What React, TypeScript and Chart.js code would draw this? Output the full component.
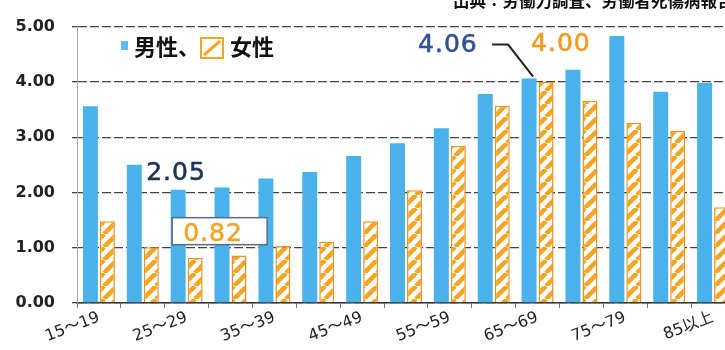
import React, { useEffect, useRef } from 'react';
import { Chart, registerables } from 'chart.js';

Chart.register(...registerables);

const categories = [
  '15～19', '20～24', '25～29', '30～34', '35～39', '40～44', '45～49', '50～54',
  '55～59', '60～64', '65～69', '70～74', '75～79', '80～84', '85以上',
];
const maleValues = [3.56, 2.5, 2.05, 2.09, 2.25, 2.37, 2.66, 2.89, 3.16, 3.78, 4.06, 4.22, 4.83, 3.82, 3.98];
const femaleValues = [1.48, 1.01, 0.82, 0.86, 1.03, 1.11, 1.48, 2.04, 2.84, 3.57, 4.0, 3.66, 3.26, 3.11, 1.73];
const seriesNames = ['男性', '女性'];
const legendTexts = ['男性、', '女性'];
const sourceNote = '出典：労働力調査、労働者死傷病報告';
const yMin = 0;
const yMax = 5;
const yStep = 1;
const peakIndex = 10;
const lowIndex = 2;

const BLUE = '#4ab2ea';
const ORANGE = '#f5a524';

function makeHatch(): CanvasPattern | string {
  const s = 13;
  const c = document.createElement('canvas');
  c.width = s;
  c.height = s;
  const g = c.getContext('2d');
  if (!g) return ORANGE;
  g.fillStyle = '#ffffff';
  g.fillRect(0, 0, s, s);
  g.strokeStyle = ORANGE;
  g.lineWidth = 4.6;
  for (let k = -1; k <= 1; k++) {
    g.beginPath();
    g.moveTo(k * s, s);
    g.lineTo(k * s + s, 0);
    g.stroke();
  }
  const p = g.createPattern(c, 'repeat');
  return p || ORANGE;
}

function boldText(ctx: CanvasRenderingContext2D, text: string, x: number, y: number, color: string) {
  ctx.fillStyle = color;
  ctx.strokeStyle = color;
  ctx.lineWidth = 0.6;
  ctx.fillText(text, x, y);
  ctx.strokeText(text, x, y);
}

const overlayPlugin = {
  id: 'overlay',
  afterDraw(chart: any) {
    const ctx: CanvasRenderingContext2D = chart.ctx;
    const male = chart.getDatasetMeta(0).data;
    const female = chart.getDatasetMeta(1).data;
    ctx.save();

    // source note (cut at top)
    ctx.font = "bold 16.5px 'Noto Sans CJK JP', sans-serif";
    ctx.fillStyle = '#111';
    ctx.textBaseline = 'ideographic';
    ctx.textAlign = 'left';
    ctx.fillText(sourceNote, 453, 9);

    // legend
    ctx.fillStyle = '#5cbcf0';
    ctx.fillRect(121, 41, 7, 9);
    ctx.font = "bold 22px 'Noto Sans CJK JP', sans-serif";
    ctx.fillStyle = '#111';
    ctx.textBaseline = 'middle';
    ctx.fillText(legendTexts[0], 134, 47);
    ctx.fillStyle = '#fff';
    ctx.fillRect(201, 38, 22, 20);
    ctx.strokeStyle = ORANGE;
    ctx.lineWidth = 2;
    ctx.strokeRect(201, 38, 22, 20);
    ctx.beginPath();
    ctx.lineWidth = 3;
    ctx.moveTo(204, 55);
    ctx.lineTo(220, 41);
    ctx.stroke();
    ctx.fillStyle = '#111';
    ctx.fillText(legendTexts[1], 230, 47);

    ctx.textBaseline = 'alphabetic';
    (ctx as any).letterSpacing = '1px';
    ctx.font = "25px 'DejaVu Sans', sans-serif";

    // peak callouts
    const mp = male[peakIndex];
    const fp = female[peakIndex];
    if (mp && fp) {
      boldText(ctx, maleValues[peakIndex].toFixed(2), mp.x - 111, mp.y - 27, '#2e5294');
      ctx.strokeStyle = '#222';
      ctx.lineWidth = 2;
      ctx.beginPath();
      ctx.moveTo(mp.x - 37, mp.y - 34);
      ctx.lineTo(mp.x - 21, mp.y - 34);
      ctx.lineTo(mp.x + 4, mp.y - 2);
      ctx.stroke();
      boldText(ctx, femaleValues[peakIndex].toFixed(2), fp.x - 15, fp.y - 31, '#f59a1d');
    }

    // low callouts
    const ml = male[lowIndex];
    const fl = female[lowIndex];
    if (ml && fl) {
      boldText(ctx, maleValues[lowIndex].toFixed(2), ml.x - 32, ml.y - 10, '#1e3557');
      const bx = fl.x - 23;
      const by = fl.y - 40;
      ctx.fillStyle = '#fff';
      ctx.fillRect(bx, by, 95, 27);
      ctx.strokeStyle = '#5a6a8a';
      ctx.lineWidth = 1.5;
      ctx.strokeRect(bx, by, 95, 27);
      boldText(ctx, femaleValues[lowIndex].toFixed(2), bx + 11, by + 23, '#f2a42a');
    }
    ctx.restore();
  },
};

export default function App() {
  const ref = useRef<HTMLCanvasElement | null>(null);

  useEffect(() => {
    if (!ref.current) return;
    const hatch = makeHatch();
    const chart = new Chart(ref.current, {
      type: 'bar',
      data: {
        labels: categories,
        datasets: [
          {
            label: seriesNames[0],
            data: maleValues,
            backgroundColor: BLUE,
            borderWidth: 0,
            categoryPercentage: 0.775,
            barPercentage: 0.88,
          },
          {
            label: seriesNames[1],
            data: femaleValues,
            backgroundColor: hatch as any,
            borderColor: '#f0901c',
            borderWidth: 1.5,
            categoryPercentage: 0.775,
            barPercentage: 0.88,
          },
        ],
      },
      options: {
        animation: false,
        responsive: false,
        maintainAspectRatio: false,
        layout: { padding: { top: 21, right: 10, left: 0, bottom: 0 } },
        plugins: {
          legend: { display: false },
          tooltip: { enabled: false },
        },
        scales: {
          x: {
            grid: { display: true, drawOnChartArea: false, drawTicks: true, tickLength: 5, color: '#777', offset: true },
            border: { display: true, color: '#333', width: 1.5 },
            ticks: {
              autoSkip: false,
              maxRotation: 21,
              minRotation: 21,
              padding: 0,
              color: '#222',
              font: { family: "'DejaVu Sans', 'Noto Sans CJK JP', sans-serif", size: 16 },
              callback: (_v: any, i: number) => (i % 2 === 0 ? categories[i] : ''),
            },
            afterFit: (s: any) => {
              s.height = 47;
            },
          },
          y: {
            min: yMin,
            max: yMax,
            ticks: {
              stepSize: yStep,
              padding: 17,
              color: '#222',
              font: { family: "'DejaVu Sans', sans-serif", size: 16, weight: 'bold' },
              callback: (v: any) => Number(v).toFixed(2),
            },
            grid: { color: '#444', lineWidth: 1.3, tickLength: 5, drawTicks: true },
            border: { display: true, color: '#aaa', dash: [9, 3] },
            afterFit: (s: any) => {
              s.width = 77;
            },
          },
        },
      },
      plugins: [overlayPlugin],
    });
    return () => chart.destroy();
  }, []);

  return (
    <div style={{ position: 'fixed', left: 0, top: 0, width: 725, height: 350, overflow: 'hidden', background: '#fff' }}>
      <div style={{ width: 745, height: 350 }}>
        <canvas ref={ref} width={745} height={350} style={{ display: 'block' }} />
      </div>
    </div>
  );
}
